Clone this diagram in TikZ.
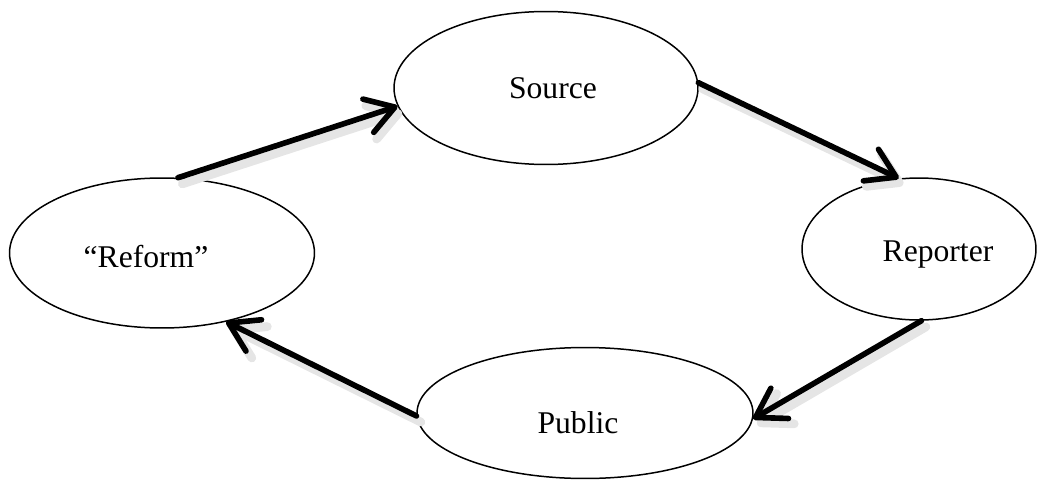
\documentclass[tikz,border=0pt]{standalone}
\usepackage{fontspec}
\setmainfont{Liberation Serif}
\usetikzlibrary{shapes.geometric,arrows.meta}

\begin{document}
\begin{tikzpicture}[x=0.02cm,y=-0.02cm,
  bubble/.style={ellipse,draw=black,line width=0.85pt,inner sep=0pt},
  word/.style={font=\fontsize{18}{22}\selectfont,inner sep=0pt},
  flow/.style={line width=3.2pt,line cap=round,-{Straight Barb[length=0.56cm,width=0.7cm,round]}},
  flowshade/.style={flow,draw=black!10,line width=5pt,transform canvas={shift={(2.5pt,-3.5pt)}}}]
  \useasboundingbox (0,0) rectangle (1038,480);

  % ellipses, placed on the pixel grid of the figure
  \node[bubble,minimum width=6.1cm,minimum height=3.0cm]   (reform)   at (162,253) {};
  \node[bubble,minimum width=6.08cm,minimum height=3.06cm] (source)   at (546,88)  {};
  \node[bubble,minimum width=4.68cm,minimum height=2.84cm] (reporter) at (919,249) {};
  \node[bubble,minimum width=6.72cm,minimum height=2.62cm] (public)   at (585,413) {};

  % labels
  \node[word] (reformtxt)   at (146,257) {“Reform”};
  \node[word] (sourcetxt)   at (553,88)  {Source};
  \node[word] (reportertxt) at (938,255) {Reporter};
  \node[word] (publictxt)   at (578,423) {Public};

  % the cycle, shadow drawn first
  \foreach \s/\t in {reform.78/source.187, source.2/reporter.106,
                     reporter.272/public.358, public.181/reform.313}{
    \draw[flowshade] (\s) -- (\t);
    \draw[flow] (\s) -- (\t);
  }
\end{tikzpicture}
\end{document}
